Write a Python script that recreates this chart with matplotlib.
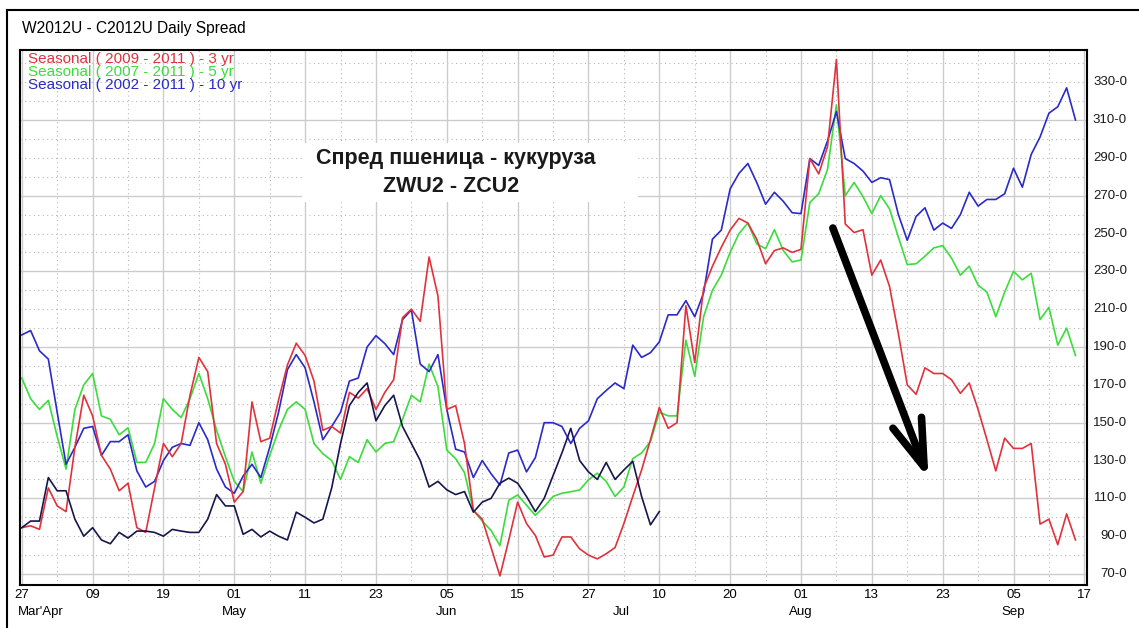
import matplotlib
matplotlib.use('Agg')
import matplotlib.pyplot as plt
from matplotlib.patches import Rectangle
from matplotlib.lines import Line2D

# daily seasonal spread, one value per trading day starting 27 Mar
seas_3yr = [94.5, 95.5, 93.6, 115.5, 106, 103, 137, 164.5, 153.6, 132.7,
            125.5, 114, 118, 94.5, 92, 115.5, 139, 132, 139, 164.5,
            184.5, 177, 139, 128, 108, 113.6, 161, 140, 141.8, 162,
            180.5, 192, 185.5, 172, 146, 148, 144.5, 166, 163, 168,
            157, 166, 172.7, 205.5, 210, 203.6, 237.6, 217, 157, 159,
            139, 103.6, 99, 84, 69, 88, 108, 96.7, 90.4, 79,
            80, 89.6, 89.6, 83.3, 80, 78, 80.7, 84, 96.7, 111,
            125, 141, 158, 147, 150, 211.8, 181.8, 221, 232.7, 242.7,
            251.8, 258, 255.5, 247, 234, 241, 242.4, 240, 241.6, 289.6,
            281.5, 296, 342, 255, 250.5, 252, 228, 236, 222, 197,
            170, 165, 179, 176, 176, 172.7, 165.5, 171, 157, 141,
            124.5, 141.8, 136.4, 136.4, 139, 96.4, 99, 85.5, 101.8, 88]
seas_5yr = [173.6, 162.7, 157, 161.8, 142.7, 125.5, 157, 170, 176, 153.6,
            151.8, 143.6, 147.3, 129, 129, 139, 162.7, 157, 152.7, 162.7,
            176, 162.7, 146, 132, 119, 113.6, 134.5, 118, 132.7, 146,
            157, 161, 157, 139, 133.6, 130, 120, 132, 129, 141,
            134.5, 139, 140, 151.8, 164.5, 161, 181, 169, 135.5, 131,
            123.6, 103.6, 98, 93, 85, 109, 111.8, 106.4, 101, 105.6,
            111, 112.7, 113.5, 114.4, 119.8, 123.3, 119, 111, 116, 131,
            134, 140, 155.5, 153.6, 153.6, 193.6, 174.5, 206, 220, 228,
            240, 250, 255.5, 244.5, 242, 252, 241, 235, 236, 266.4,
            271, 284, 318, 270, 277, 269.5, 260.5, 270, 263, 248,
            233.6, 234, 238, 242.4, 243.6, 237, 228, 232.7, 222.7, 219,
            206, 219, 230, 225.5, 229, 204.5, 211, 191, 200, 185.5]
seas_10yr = [196.4, 198.7, 188, 183.6, 155.5, 128, 137, 147, 148, 132.7,
             140, 140, 143.6, 124.5, 116, 119, 130, 137, 139, 138,
             150, 141, 125.5, 116, 112.7, 121.8, 128, 121, 137, 155.5,
             178, 186, 179, 161, 141, 148, 155.5, 172, 173.6, 190,
             196, 191.8, 186, 204.5, 209.6, 181, 177, 186, 157, 136,
             134.5, 121, 130, 123, 117, 134, 135.5, 124, 131.5, 150,
             150, 148, 139, 147, 151, 162.7, 167, 171, 168, 191,
             184.5, 187, 192.7, 207, 207, 214.5, 206, 218.6, 247, 251.8,
             273.6, 281.8, 287, 277, 265.5, 271.8, 267, 261, 260.5, 289.6,
             286, 299, 314.4, 289.6, 287, 283, 277, 279.5, 278.5, 260,
             246.4, 259, 263.6, 251.8, 255.5, 252.7, 260, 271.8, 264.5, 268,
             268, 271, 284.5, 274.5, 291.8, 301, 313.6, 317, 327, 310]
# actual 2012 spread (stops in July)
spread_2012 = [94.5, 98, 98, 121, 114, 114, 99, 90, 94.5, 88,
               86, 92, 89, 92.7, 92.7, 92, 90, 93.6, 92.7, 92,
               92, 99, 112, 106, 106, 91, 93.6, 89.6, 92.7, 90,
               88, 102.7, 100, 97, 99, 115.5, 139, 159, 166, 171,
               151, 159, 164.5, 148, 139, 130, 116, 119, 114.5, 112,
               113.6, 102.7, 108, 110, 118, 120.7, 118, 111, 103, 110,
               122, 134, 147, 130, 124, 120, 129, 120, 125, 129.6,
               111, 96, 103]

day_labels = ['27', '09', '19', '01', '11', '23', '05', '15',
              '27', '10', '20', '01', '13', '23', '05', '17']
months = ['May', 'Jun', 'Jul', 'Aug', 'Sep']
month_day = [24, 48, 67.7, 88, 112]
price_levels = list(range(70, 331, 20))

legend_txt = ['Seasonal ( 2009 - 2011 ) - 3 yr',
              'Seasonal ( 2007 - 2011 ) - 5 yr',
              'Seasonal ( 2002 - 2011 ) - 10 yr']
c_red, c_green, c_blue, c_navy = '#e0323c', '#3cdc3c', '#2a2ac8', '#16164c'

W, H = 1139, 628
plt.rcParams['font.family'] = ['Liberation Sans', 'DejaVu Sans']
fig = plt.figure(figsize=(W / 100, H / 100), dpi=100)
fig.patch.set_facecolor('white')
ax = fig.add_axes([20 / W, 1 - 585 / H, (1087 - 20) / W, (585 - 50) / H])
ax.set_xlim(-0.2, 120.3)
ax.set_ylim(64.2, 347)

# grid: solid every 40 / 8 days, dotted in between
for v in range(70, 341, 10):
    if (v - 70) % 40 == 0:
        ax.axhline(v, color='#cccccc', lw=1.0, zorder=0)
    else:
        ax.axhline(v, color='#b8b8b8', lw=0.8, ls=(0, (1, 3)), zorder=0)
for d in range(0, 121, 4):
    if d % 8 == 0:
        ax.axvline(d, color='#cccccc', lw=1.0, zorder=0)
    else:
        ax.axvline(d, color='#b8b8b8', lw=0.8, ls=(0, (1, 3)), zorder=0)

ax.plot(range(len(seas_5yr)), seas_5yr, color=c_green, lw=1.2)
ax.plot(range(len(seas_10yr)), seas_10yr, color=c_blue, lw=1.2)
ax.plot(range(len(seas_3yr)), seas_3yr, color=c_red, lw=1.2)
ax.plot(range(len(spread_2012)), spread_2012, color=c_navy, lw=1.2)

for s in ax.spines.values():
    s.set_linewidth(1.5)
    s.set_color('black')

ax.set_yticks([])
ax.set_xticks(range(0, 121, 8))
ax.set_xticklabels(day_labels, fontsize=9.5)
ax.tick_params(axis='x', length=0, pad=3)

for m, d in zip(months, month_day):
    ax.text(d, -0.05, m, transform=ax.get_xaxis_transform(),
            ha='center', va='center', fontsize=9.5)
ax.text(-0.4, -0.05, "Mar'Apr", transform=ax.get_xaxis_transform(),
        ha='left', va='center', fontsize=9.5)

for v in price_levels:
    ax.text(1.0375, v, f'{v}-0', transform=ax.get_yaxis_transform(),
            ha='right', va='center', fontsize=9.5, color='#1a1a1a')

# title and legend text
fig.text(22 / W, 1 - 28 / H, 'W2012U - C2012U Daily Spread', va='center', fontsize=11.2)
for k, (t, c) in enumerate(zip(legend_txt, [c_red, c_green, c_blue])):
    fig.text(28 / W, 1 - (59 + 13 * k) / H, t, va='center', fontsize=11, color=c)

# annotation box
fig.add_artist(Rectangle((302 / W, 1 - 202 / H), 336 / W, 59 / H,
                         transform=fig.transFigure, facecolor='white', edgecolor='none'))
fig.text(456 / W, 1 - 158 / H, 'Спред пшеница - кукуруза', ha='center', va='center',
         fontsize=15.5, fontweight='bold', color='#1a1a1a')
fig.text(451 / W, 1 - 186 / H, 'ZWU2 - ZCU2', ha='center', va='center',
         fontsize=15.5, fontweight='bold', color='#1a1a1a')

ax.annotate('', xy=(102.4, 120.5), xytext=(91.6, 252.9),
            arrowprops=dict(arrowstyle='->, head_length=3.4, head_width=1.1',
                            lw=5.5, color='black', capstyle='round',
                            shrinkA=0, shrinkB=0))

# outer frame
fig.add_artist(Line2D([7 / W, 7 / W], [0, 1 - 10 / H], transform=fig.transFigure, color='black', lw=1.5))
fig.add_artist(Line2D([7 / W, 1], [1 - 10 / H, 1 - 10 / H], transform=fig.transFigure, color='black', lw=1.5))

fig.savefig('out.png', dpi=100)
